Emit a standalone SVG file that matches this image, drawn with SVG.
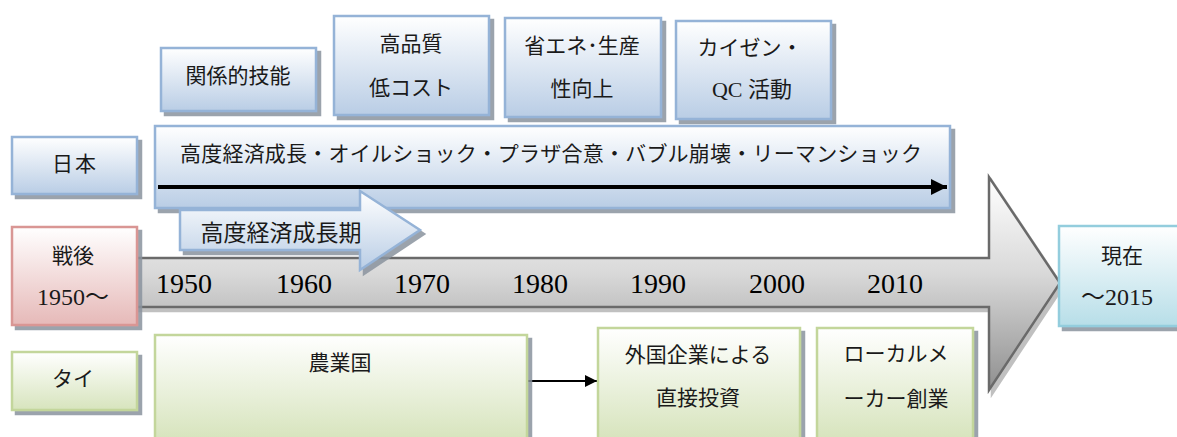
<svg xmlns="http://www.w3.org/2000/svg" width="1177" height="437" viewBox="0 0 1177 437">
<defs>
<linearGradient id="gBlue" x1="0" y1="0" x2="0" y2="1"><stop offset="0" stop-color="#ffffff"/><stop offset="1" stop-color="#b9cde5"/></linearGradient>
<linearGradient id="gRed" x1="0" y1="0" x2="0" y2="1"><stop offset="0" stop-color="#ffffff"/><stop offset="1" stop-color="#e6b9b8"/></linearGradient>
<linearGradient id="gGreen" x1="0" y1="0" x2="0" y2="1"><stop offset="0" stop-color="#ffffff"/><stop offset="1" stop-color="#d7e4bd"/></linearGradient>
<linearGradient id="gCyan" x1="0" y1="0" x2="0" y2="1"><stop offset="0" stop-color="#ffffff"/><stop offset="1" stop-color="#b7dee8"/></linearGradient>
<linearGradient id="gGrey" x1="0" y1="0" x2="0" y2="1"><stop offset="0" stop-color="#ffffff"/><stop offset="0.45" stop-color="#d9d9d9"/><stop offset="1" stop-color="#8f8f8f"/></linearGradient>
<filter id="sh" x="-5%" y="-5%" width="115%" height="120%">
<feOffset in="SourceAlpha" dx="4" dy="4" result="o"/>
<feFlood flood-color="#8a939e" flood-opacity="0.85"/>
<feComposite in2="o" operator="in" result="s"/>
<feMerge><feMergeNode in="s"/><feMergeNode in="SourceGraphic"/></feMerge>
</filter>
<filter id="shG" x="-5%" y="-5%" width="115%" height="120%">
<feOffset in="SourceAlpha" dx="3" dy="4" result="o"/>
<feFlood flood-color="#b0b0b0" flood-opacity="0.8"/>
<feComposite in2="o" operator="in" result="s"/>
<feMerge><feMergeNode in="s"/><feMergeNode in="SourceGraphic"/></feMerge>
</filter>
<marker id="ah" viewBox="0 0 10 10" refX="10" refY="5" markerWidth="4" markerHeight="4" orient="auto" markerUnits="strokeWidth"><path d="M0,0 L10,5 L0,10 Z" fill="#000"/></marker>
<marker id="ah2" viewBox="0 0 10 10" refX="10" refY="5" markerWidth="6" markerHeight="6" orient="auto" markerUnits="strokeWidth"><path d="M0,0 L10,5 L0,10 Z" fill="#000"/></marker>
</defs>
<style>
.blue{fill:url(#gBlue);stroke:#95b3d7;stroke-width:2.5;filter:url(#sh)}
.red{fill:url(#gRed);stroke:#d99694;stroke-width:2.5;filter:url(#sh)}
.green{fill:url(#gGreen);stroke:#c3d69b;stroke-width:2.5;filter:url(#sh)}
.cyan{fill:url(#gCyan);stroke:#93cddd;stroke-width:2.5;filter:url(#sh)}
text{font-family:"Liberation Serif","Noto Sans CJK JP",serif;font-size:21px;fill:#1a1a1a;text-anchor:middle}
.yr{font-size:28px;fill:#000}
.num{font-size:24px}
.lt{text-anchor:start}
</style>

<g id="timeline-arrow">
<path d="M130,258 H989 V177 L1060,283 L989,390 V307 H130 Z" fill="url(#gGrey)" stroke="#6b6b6b" stroke-width="2.5" filter="url(#shG)"/>
<text class="yr" x="184" y="293">1950</text>
<text class="yr" x="304" y="293">1960</text>
<text class="yr" x="422" y="293">1970</text>
<text class="yr" x="540" y="293">1980</text>
<text class="yr" x="658" y="293">1990</text>
<text class="yr" x="777" y="293">2000</text>
<text class="yr" x="895" y="293">2010</text>
</g>

<g id="skill">
<rect class="blue" x="161" y="48" width="155" height="63"/>
<text x="238" y="83">関係的技能</text>
</g>
<g id="quality">
<rect class="blue" x="334" y="16" width="155" height="99"/>
<text x="411" y="51">高品質</text>
<text x="411" y="95">低コスト</text>
</g>
<g id="energy">
<rect class="blue" x="505" y="18" width="156" height="99"/>
<text x="582" y="53">省エネ･生産</text>
<text x="582" y="96">性向上</text>
</g>
<g id="kaizen">
<rect class="blue" x="676" y="21" width="155" height="98"/>
<text x="750" y="55">カイゼン・</text>
<text x="752" y="97" class="num" style="font-size:22px">QC 活動</text>
</g>
<g id="japan">
<rect class="blue" x="12" y="137" width="125" height="57"/>
<text x="75" y="171" letter-spacing="2">日本</text>
</g>
<g id="japan-events">
<rect class="blue" x="155" y="126" width="795" height="82"/>
<text class="lt" x="180" y="161" textLength="742" lengthAdjust="spacing">高度経済成長・オイルショック・プラザ合意・バブル崩壊・リーマンショック</text>
</g>

<g id="connectors">
<line x1="158" y1="187" x2="947" y2="187" stroke="#000" stroke-width="4" marker-end="url(#ah)"/>
<line x1="527" y1="381" x2="597" y2="381" stroke="#000" stroke-width="2" marker-end="url(#ah2)"/>
</g>

<g id="growth">
<path class="blue" d="M180,210 H360 V191 L420,230 L360,270 V250 H180 Z"/>
<text x="281" y="241" style="font-size:23px">高度経済成長期</text>
</g>

<g id="postwar">
<rect class="red" x="12" y="227" width="125" height="98"/>
<text x="73" y="263">戦後</text>
<text x="73" y="305" class="num">1950～</text>
</g>
<g id="present">
<rect class="cyan" x="1059" y="226" width="130" height="100"/>
<text x="1122" y="263">現在</text>
<text x="1117" y="305" class="num">～2015</text>
</g>
<g id="thai">
<rect class="green" x="12" y="352" width="125" height="58"/>
<text x="73" y="386">タイ</text>
</g>
<g id="agri">
<rect class="green" x="155" y="335" width="372" height="104"/>
<text x="340" y="370">農業国</text>
</g>
<g id="fdi">
<rect class="green" x="598" y="328" width="202" height="111"/>
<text x="698" y="362">外国企業による</text>
<text x="698" y="405">直接投資</text>
</g>
<g id="local">
<rect class="green" x="817" y="328" width="156" height="111"/>
<text x="896" y="361">ローカルメ</text>
<text x="896" y="406">ーカー創業</text>
</g>
</svg>
